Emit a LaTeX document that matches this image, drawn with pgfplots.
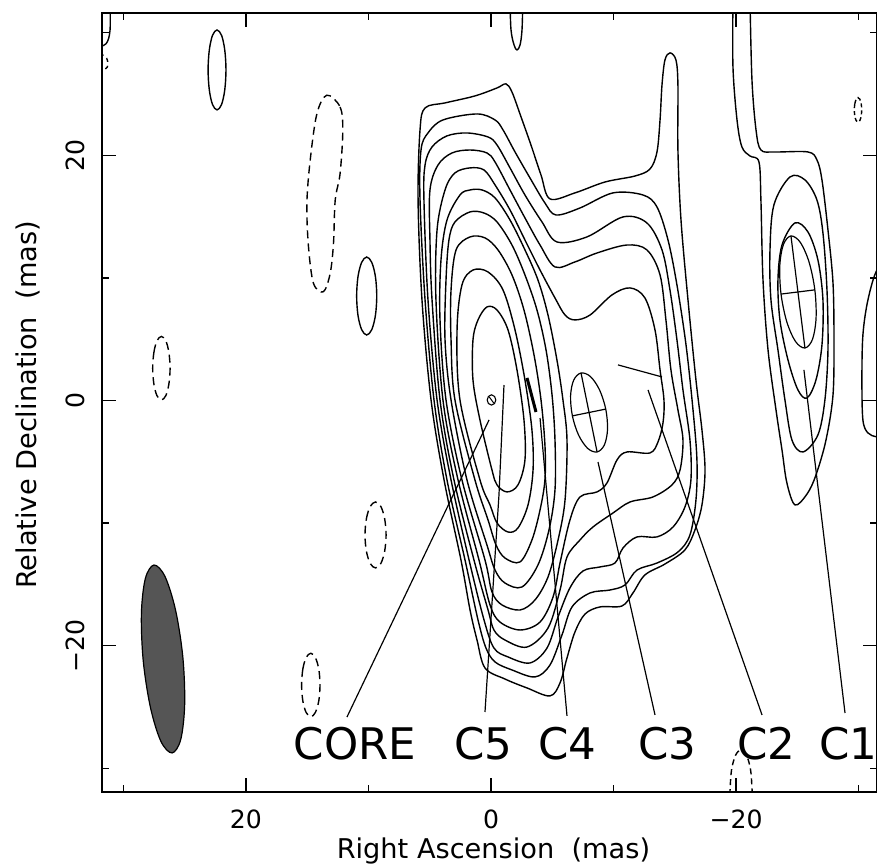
\documentclass[border=0pt]{standalone}
\usepackage{fontspec}
\setmainfont{DejaVu Sans}
\usepackage{pgfplots}
\pgfplotsset{compat=1.18}
\definecolor{beamgray}{RGB}{85,85,85}
\pgfplotsset{
  cont/.style={black, line width=1.4bp, no markers, smooth cycle, tension=0.55},
  dcont/.style={black, line width=1.4bp, no markers, smooth cycle, tension=0.55, dash pattern=on 8bp off 5bp},
  ocont/.style={black, line width=1.4bp, no markers, smooth, tension=0.55},
  pointer/.style={black, line width=1.2bp, no markers},
}
\begin{document}
\begin{tikzpicture}
\begin{axis}[
  scale only axis, width=775.8bp, height=779bp,
  x dir=reverse, xmin=-31.53, xmax=31.76, ymin=-31.96, ymax=31.58,
  xtick={-20,0,20}, xticklabels={−20,0,20},
  ytick={-20,0,20}, yticklabels={−20,0,20},
  minor xtick={-30,-10,10,30}, minor ytick={-30,-10,10,30},
  tick pos=both, tick align=inside,
  major tick length=14bp, minor tick length=7bp,
  tick style={black, line width=1.5bp},
  axis line style={line width=2bp},
  tick label style={font=\fontsize{25.2}{30}\selectfont, inner sep=0pt},
  xticklabel shift=17.7bp, yticklabel shift=16.7bp,
  yticklabel style={rotate=90, anchor=south},
  clip=true,
]
\coordinate (xl) at (axis cs:-0.2,-31.96);
\coordinate (yl) at (axis cs:31.76,-0.37);

% ---------------- main source: wide contours a-e ----------------
\addplot[cont] coordinates {(5.38,23.86) (3.75,24.27) (1.31,24.84) (-0.49,25.49) (-1.22,25.82) (-1.71,25.16) (-2.45,23.13) (-3.26,20.84) (-4.08,18.39) (-4.81,16.44) (-6.85,16.93) (-9.30,17.82) (-11.75,18.31) (-12.97,18.88) (-13.54,20.27) (-13.79,22.88) (-13.95,25.74) (-14.19,27.77) (-14.60,28.35) (-15.09,27.77) (-15.25,25.74) (-15.25,20.43) (-15.50,14.72) (-16.07,8.20) (-16.72,1.67) (-17.21,-2.41) (-17.46,-5.67) (-17.21,-8.52) (-16.64,-10.56) (-15.82,-12.19) (-14.19,-13.34) (-12.56,-14.23) (-11.58,-15.70) (-10.69,-16.76) (-8.89,-16.84) (-7.67,-17.42) (-6.85,-18.88) (-6.20,-21.00) (-5.63,-23.04) (-4.81,-24.10) (-2.94,-23.45) (-1.14,-22.72) (0.49,-21.82) (1.14,-19.54) (1.71,-17.09) (2.45,-13.01) (3.83,-6.48) (4.89,0.04) (5.63,8.20) (5.95,16.35) (5.79,22.07)};
\addplot[cont] coordinates {(5.71,20.43) (5.14,21.82) (3.92,22.88) (1.14,23.37) (-0.33,22.88) (-0.98,22.07) (-1.96,20.27) (-3.18,18.15) (-4.40,16.11) (-5.30,15.13) (-7.26,15.70) (-9.95,16.93) (-12.40,16.76) (-13.54,15.78) (-14.44,13.09) (-15.17,9.42) (-15.91,4.53) (-16.48,-0.77) (-16.80,-4.85) (-16.72,-8.12) (-16.23,-10.97) (-15.25,-12.36) (-13.54,-13.26) (-11.91,-13.83) (-10.93,-15.05) (-9.71,-15.46) (-8.08,-15.70) (-6.61,-16.84) (-5.79,-19.13) (-4.81,-21.58) (-3.59,-22.55) (-1.71,-21.98) (-0.33,-21.33) (0.41,-20.19) (1.06,-17.90) (2.12,-13.01) (3.59,-6.48) (4.65,0.04) (5.38,8.20) (5.79,16.35)};
\addplot[cont] coordinates {(5.38,19.21) (4.81,20.68) (3.59,21.58) (1.96,21.82) (0.24,21.49) (-0.49,20.84) (-1.55,18.97) (-2.77,16.76) (-4.16,14.56) (-5.38,12.93) (-7.83,13.34) (-10.77,14.97) (-12.72,14.48) (-13.95,12.28) (-14.60,9.01) (-15.17,4.94) (-15.66,0.86) (-16.23,-3.22) (-16.31,-6.48) (-15.82,-8.69) (-14.85,-10.32) (-13.54,-11.13) (-11.91,-11.13) (-10.77,-12.03) (-10.11,-13.26) (-8.89,-13.58) (-7.50,-13.91) (-6.44,-15.29) (-5.47,-17.66) (-4.57,-20.19) (-3.18,-21.41) (-1.39,-20.92) (-0.24,-20.19) (0.57,-17.90) (1.79,-13.01) (3.26,-6.48) (4.40,0.04) (5.14,8.20) (5.47,16.35)};
\addplot[cont] coordinates {(4.98,17.17) (4.32,19.21) (3.18,20.19) (1.71,20.43) (0.33,20.19) (-0.33,19.45) (-1.55,17.17) (-2.77,14.89) (-4.00,12.68) (-5.22,10.89) (-6.85,11.30) (-8.65,12.03) (-11.09,12.68) (-12.72,12.28) (-13.79,10.24) (-14.27,6.57) (-14.68,2.49) (-15.25,-0.77) (-15.66,-3.22) (-15.42,-5.67) (-14.76,-6.89) (-13.21,-7.87) (-11.34,-8.28) (-9.95,-9.18) (-8.32,-10.32) (-7.26,-11.38) (-6.20,-12.77) (-5.63,-15.46) (-4.65,-18.56) (-2.94,-20.11) (-1.14,-19.54) (-0.24,-18.72) (0.24,-17.09) (1.39,-13.01) (3.02,-6.48) (4.16,0.04) (4.81,8.20) (4.98,13.09)};
\addplot[cont] coordinates {(2.94,18.56) (1.71,18.97) (0.57,18.80) (-0.33,17.58) (-1.55,15.54) (-2.77,13.09) (-4.00,10.64) (-5.22,8.36) (-6.04,6.97) (-6.85,6.57) (-8.08,6.97) (-9.87,8.61) (-11.34,9.18) (-12.56,8.36) (-13.38,5.75) (-13.79,2.49) (-14.11,0.04) (-14.03,-1.84) (-13.62,-3.39) (-12.97,-4.28) (-11.09,-4.20) (-10.28,-4.85) (-9.46,-6.73) (-8.65,-7.46) (-7.26,-7.87) (-6.44,-9.75) (-5.63,-13.26) (-5.06,-16.03) (-4.00,-18.07) (-2.37,-18.72) (-0.73,-18.07) (0.08,-16.68) (0.98,-13.01) (2.69,-6.48) (3.92,0.04) (4.49,8.20) (4.40,13.91) (3.75,17.17)};
% ---------------- core contours f-j ----------------
\addplot[cont] coordinates {(2.53,16.76) (1.71,17.17) (0.73,17.17) (-0.33,16.52) (-1.55,14.72) (-2.77,12.28) (-3.83,9.83) (-4.65,6.97) (-5.38,3.30) (-5.87,0.04) (-6.20,-3.22) (-6.04,-8.12) (-5.47,-11.38) (-4.65,-14.40) (-3.59,-16.27) (-2.37,-17.09) (-0.90,-16.68) (-0.08,-15.62) (0.49,-13.01) (2.37,-6.48) (3.67,0.04) (4.16,6.57) (4.08,11.46) (3.59,14.72)};
\addplot[cont] coordinates {(2.94,14.56) (1.71,15.38) (0.57,15.29) (-0.49,14.56) (-1.71,12.68) (-2.77,10.24) (-3.75,7.38) (-4.49,4.12) (-4.98,0.45) (-5.22,-3.22) (-5.22,-7.30) (-4.73,-10.56) (-3.83,-13.42) (-2.53,-15.21) (-1.14,-14.89) (-0.33,-13.83) (0.33,-11.79) (1.96,-6.48) (3.26,0.04) (3.75,4.93) (3.67,9.83) (3.43,13.09)};
\addplot[cont] coordinates {(2.85,12.28) (1.71,13.34) (0.49,13.26) (-0.57,12.28) (-1.71,10.24) (-2.69,7.38) (-3.51,3.71) (-4.08,0.04) (-4.40,-3.63) (-4.40,-6.48) (-4.00,-8.93) (-3.34,-11.38) (-2.37,-13.17) (-1.14,-12.85) (-0.41,-11.79) (0.24,-9.75) (1.31,-6.48) (2.94,0.04) (3.26,4.93) (3.26,9.01)};
\addplot[cont] coordinates {(2.37,9.42) (1.47,10.64) (0.24,10.48) (-0.98,9.01) (-1.96,5.75) (-2.77,1.67) (-3.34,-2.41) (-3.43,-5.67) (-3.02,-8.52) (-2.20,-10.40) (-1.39,-10.73) (-0.49,-9.99) (0.08,-8.52) (0.90,-6.48) (2.53,0.04) (2.77,5.75)};
\addplot[cont] coordinates {(1.06,6.57) (0.33,7.63) (-0.49,7.38) (-1.39,5.75) (-2.12,2.49) (-2.69,-1.59) (-2.77,-4.85) (-2.20,-6.89) (-1.31,-7.46) (-0.49,-6.89) (-0.08,-5.67) (0.90,-1.59) (1.47,1.67) (1.47,4.94)};
% core marker
\addplot[cont, line width=1.1bp] coordinates {(0.31,0.04) (0.21,0.33) (-0.04,0.46) (-0.29,0.33) (-0.39,0.04) (-0.29,-0.25) (-0.04,-0.38) (0.21,-0.25)};
\addplot[pointer, line width=1bp] coordinates {(0.15,0.30) (-0.23,-0.22)};

% ---------------- model components ----------------
% C5, C4
\addplot[pointer] coordinates {(-1.06,1.26) (-0.65,-7.71) (0.49,-25.41)};
\addplot[pointer, line width=3bp] coordinates {(-2.94,1.84) (-3.67,-0.94)};
\addplot[pointer] coordinates {(-4.00,-1.43) (-6.20,-25.73)};
% CORE pointer
\addplot[pointer] coordinates {(0.16,-1.59) (11.75,-25.82)};
% C3 ellipse with cross
\addplot[cont, line width=1.2bp] coordinates {(-7.345,2.241) (-6.752,1.670) (-6.493,0.391) (-6.639,-1.257) (-7.149,-2.831) (-7.886,-3.908) (-8.655,-4.201) (-9.248,-3.630) (-9.507,-2.351) (-9.361,-0.703) (-8.851,0.871) (-8.114,1.948)};
\addplot[pointer] coordinates {(-7.345,2.241) (-8.655,-4.201)};
\addplot[pointer] coordinates {(-6.639,-1.257) (-9.361,-0.703)};
\addplot[pointer] coordinates {(-8.73,-5.02) (-13.38,-25.65)};
% C2
\addplot[pointer] coordinates {(-10.36,2.90) (-13.95,1.92)};
\addplot[pointer] coordinates {(-12.81,0.86) (-22.11,-25.65)};
% C1 region contours
\addplot[ocont] coordinates {(-19.74,32.67) (-19.74,27.20) (-20.07,22.88) (-20.47,20.68) (-21.13,19.94) (-21.86,19.45) (-22.02,16.35) (-22.19,9.83) (-22.60,4.12) (-23.25,-0.77) (-23.74,-4.04) (-24.14,-6.73) (-24.80,-8.52) (-25.78,-7.63) (-26.51,-6.08) (-27.33,-3.22) (-27.90,0.45) (-27.98,4.94) (-27.90,9.58) (-27.49,13.91) (-27.00,17.99) (-26.59,19.62) (-25.86,20.27) (-23.17,20.27) (-22.02,20.43) (-21.62,22.07) (-21.29,26.14) (-21.13,32.67)};
\addplot[cont] coordinates {(-24.39,18.23) (-25.61,17.99) (-26.59,16.35) (-27.08,13.66) (-27.41,9.01) (-27.49,4.12) (-27.24,0.04) (-26.67,-2.81) (-25.45,-4.20) (-24.55,-3.22) (-23.98,0.04) (-23.41,4.12) (-22.84,8.20) (-22.76,12.28) (-23.08,15.95)};
\addplot[cont] coordinates {(-24.80,14.48) (-25.86,13.74) (-26.67,11.46) (-27.08,8.20) (-27.00,4.53) (-26.51,1.67) (-25.78,0.20) (-25.04,0.86) (-24.23,3.30) (-23.57,6.57) (-23.41,9.83) (-23.74,12.68)};
\addplot[cont, line width=1.2bp] coordinates {(-24.47,13.42) (-23.856,12.722) (-23.561,10.986) (-23.661,8.678) (-24.131,6.416) (-24.844,4.806) (-25.61,4.28) (-26.224,4.978) (-26.519,6.714) (-26.419,9.022) (-25.949,11.284) (-25.236,12.894)};
\addplot[pointer] coordinates {(-24.47,13.42) (-25.61,4.28)};
\addplot[pointer] coordinates {(-23.661,8.678) (-26.419,9.022)};
\addplot[pointer] coordinates {(-25.53,2.49) (-28.88,-25.49)};
% right edge contour
\addplot[ocont] coordinates {(-32.5,11.2) (-31.49,10.64) (-30.75,8.20) (-30.34,5.34) (-30.26,1.67) (-30.34,-1.59) (-30.75,-2.65) (-31.49,-2.98) (-32.5,-3.1)};
% small top contour near x=-2
\addplot[ocont] coordinates {(-1.55,32.7) (-1.63,30.24) (-1.88,29.0) (-2.12,28.59) (-2.37,29.0) (-2.53,30.24) (-2.6,32.7)};
% top-left edge pieces
\addplot[ocont] coordinates {(31.08,32.7) (31.08,30.2) (31.4,29.1) (32.2,28.8)};
\addplot[ocont, dash pattern=on 4bp off 4bp] coordinates {(31.9,28.3) (31.35,27.9) (31.3,27.2) (31.9,26.8)};

% ---------------- isolated small contours ----------------
\addplot[cont] coordinates {(23.08,26.96) (22.98,28.59) (22.72,29.78) (22.35,30.22) (21.98,29.78) (21.72,28.59) (21.62,26.96) (21.72,25.33) (21.98,24.14) (22.35,23.70) (22.72,24.14) (22.98,25.33)};
\addplot[dcont] coordinates {(13.39,24.9) (12.31,23.94) (12.09,22.05) (12.31,18.52) (12.71,16.34) (12.85,12.81) (13.12,10.37) (13.67,8.87) (14.48,9.55) (14.89,12.54) (15.02,16.07) (14.75,19.6) (14.2,23.4)};
\addplot[cont] coordinates {(10.96,8.52) (10.85,10.11) (10.55,11.27) (10.14,11.70) (9.73,11.27) (9.43,10.11) (9.32,8.52) (9.43,6.93) (9.73,5.77) (10.14,5.34) (10.55,5.77) (10.85,6.93)};
\addplot[dcont] coordinates {(27.60,2.63) (27.50,3.93) (27.25,4.87) (26.89,5.22) (26.53,4.87) (26.28,3.93) (26.18,2.63) (26.28,1.33) (26.53,0.39) (26.89,0.04) (27.25,0.39) (27.50,1.33)};
\addplot[dcont] coordinates {(10.28,-10.97) (10.16,-9.62) (9.85,-8.64) (9.42,-8.28) (8.99,-8.64) (8.68,-9.62) (8.56,-10.97) (8.68,-12.32) (8.99,-13.30) (9.42,-13.66) (9.85,-13.30) (10.16,-12.32)};
\addplot[dcont] coordinates {(15.45,-23.21) (15.35,-21.91) (15.08,-20.97) (14.70,-20.62) (14.33,-20.97) (14.05,-21.91) (13.95,-23.21) (14.05,-24.51) (14.33,-25.45) (14.70,-25.80) (15.08,-25.45) (15.35,-24.51)};
\addplot[dcont, dash pattern=on 4bp off 3bp] coordinates {(-29.64,23.70) (-29.68,24.20) (-29.79,24.57) (-29.94,24.70) (-30.09,24.57) (-30.20,24.20) (-30.24,23.70) (-30.20,23.20) (-30.09,22.83) (-29.94,22.70) (-29.79,22.83) (-29.68,23.20)};
\addplot[ocont, dash pattern=on 6bp off 4bp] coordinates {(-19.45,-33) (-19.5,-31.8) (-19.62,-30.15) (-19.95,-28.94) (-20.4,-28.5) (-20.85,-28.94) (-21.18,-30.15) (-21.3,-31.8) (-21.35,-33)};

% ---------------- beam ----------------
\addplot[cont, fill=beamgray, line width=1.2bp] coordinates {(27.49,-13.42) (28.20,-14.53) (28.52,-17.39) (28.37,-21.24) (27.78,-25.05) (26.93,-27.80) (26.02,-28.75) (25.31,-27.65) (24.99,-24.78) (25.14,-20.93) (25.73,-17.12) (26.59,-14.37)};

% ---------------- component labels ----------------
\node[anchor=base, font=\fontsize{43.7}{50}\selectfont] at (axis cs:11.09,-29.32) {CORE};
\node[anchor=base, font=\fontsize{43.7}{50}\selectfont] at (axis cs:0.61,-29.32) {C5};
\node[anchor=base, font=\fontsize{43.7}{50}\selectfont] at (axis cs:-6.24,-29.32) {C4};
\node[anchor=base, font=\fontsize{43.7}{50}\selectfont] at (axis cs:-14.40,-29.32) {C3};
\node[anchor=base, font=\fontsize{43.7}{50}\selectfont] at (axis cs:-22.47,-29.32) {C2};
\node[anchor=base, font=\fontsize{43.7}{50}\selectfont] at (axis cs:-29.15,-29.32) {C1};
\end{axis}
\node[anchor=base, font=\fontsize{27.3}{32}\selectfont] at ([yshift=-65.7bp]xl) {Right Ascension\ \ (mas)};
\node[rotate=90, anchor=base, font=\fontsize{27.3}{32}\selectfont] at ([xshift=-65.2bp]yl) {Relative Declination\ \ (mas)};
\pgfresetboundingbox
\path[use as bounding box] ([shift={(-101.7bp,-74.7bp)}]current axis.south west) rectangle ([shift={(-0.5bp,13.3bp)}]current axis.north east);
\end{tikzpicture}
\end{document}
